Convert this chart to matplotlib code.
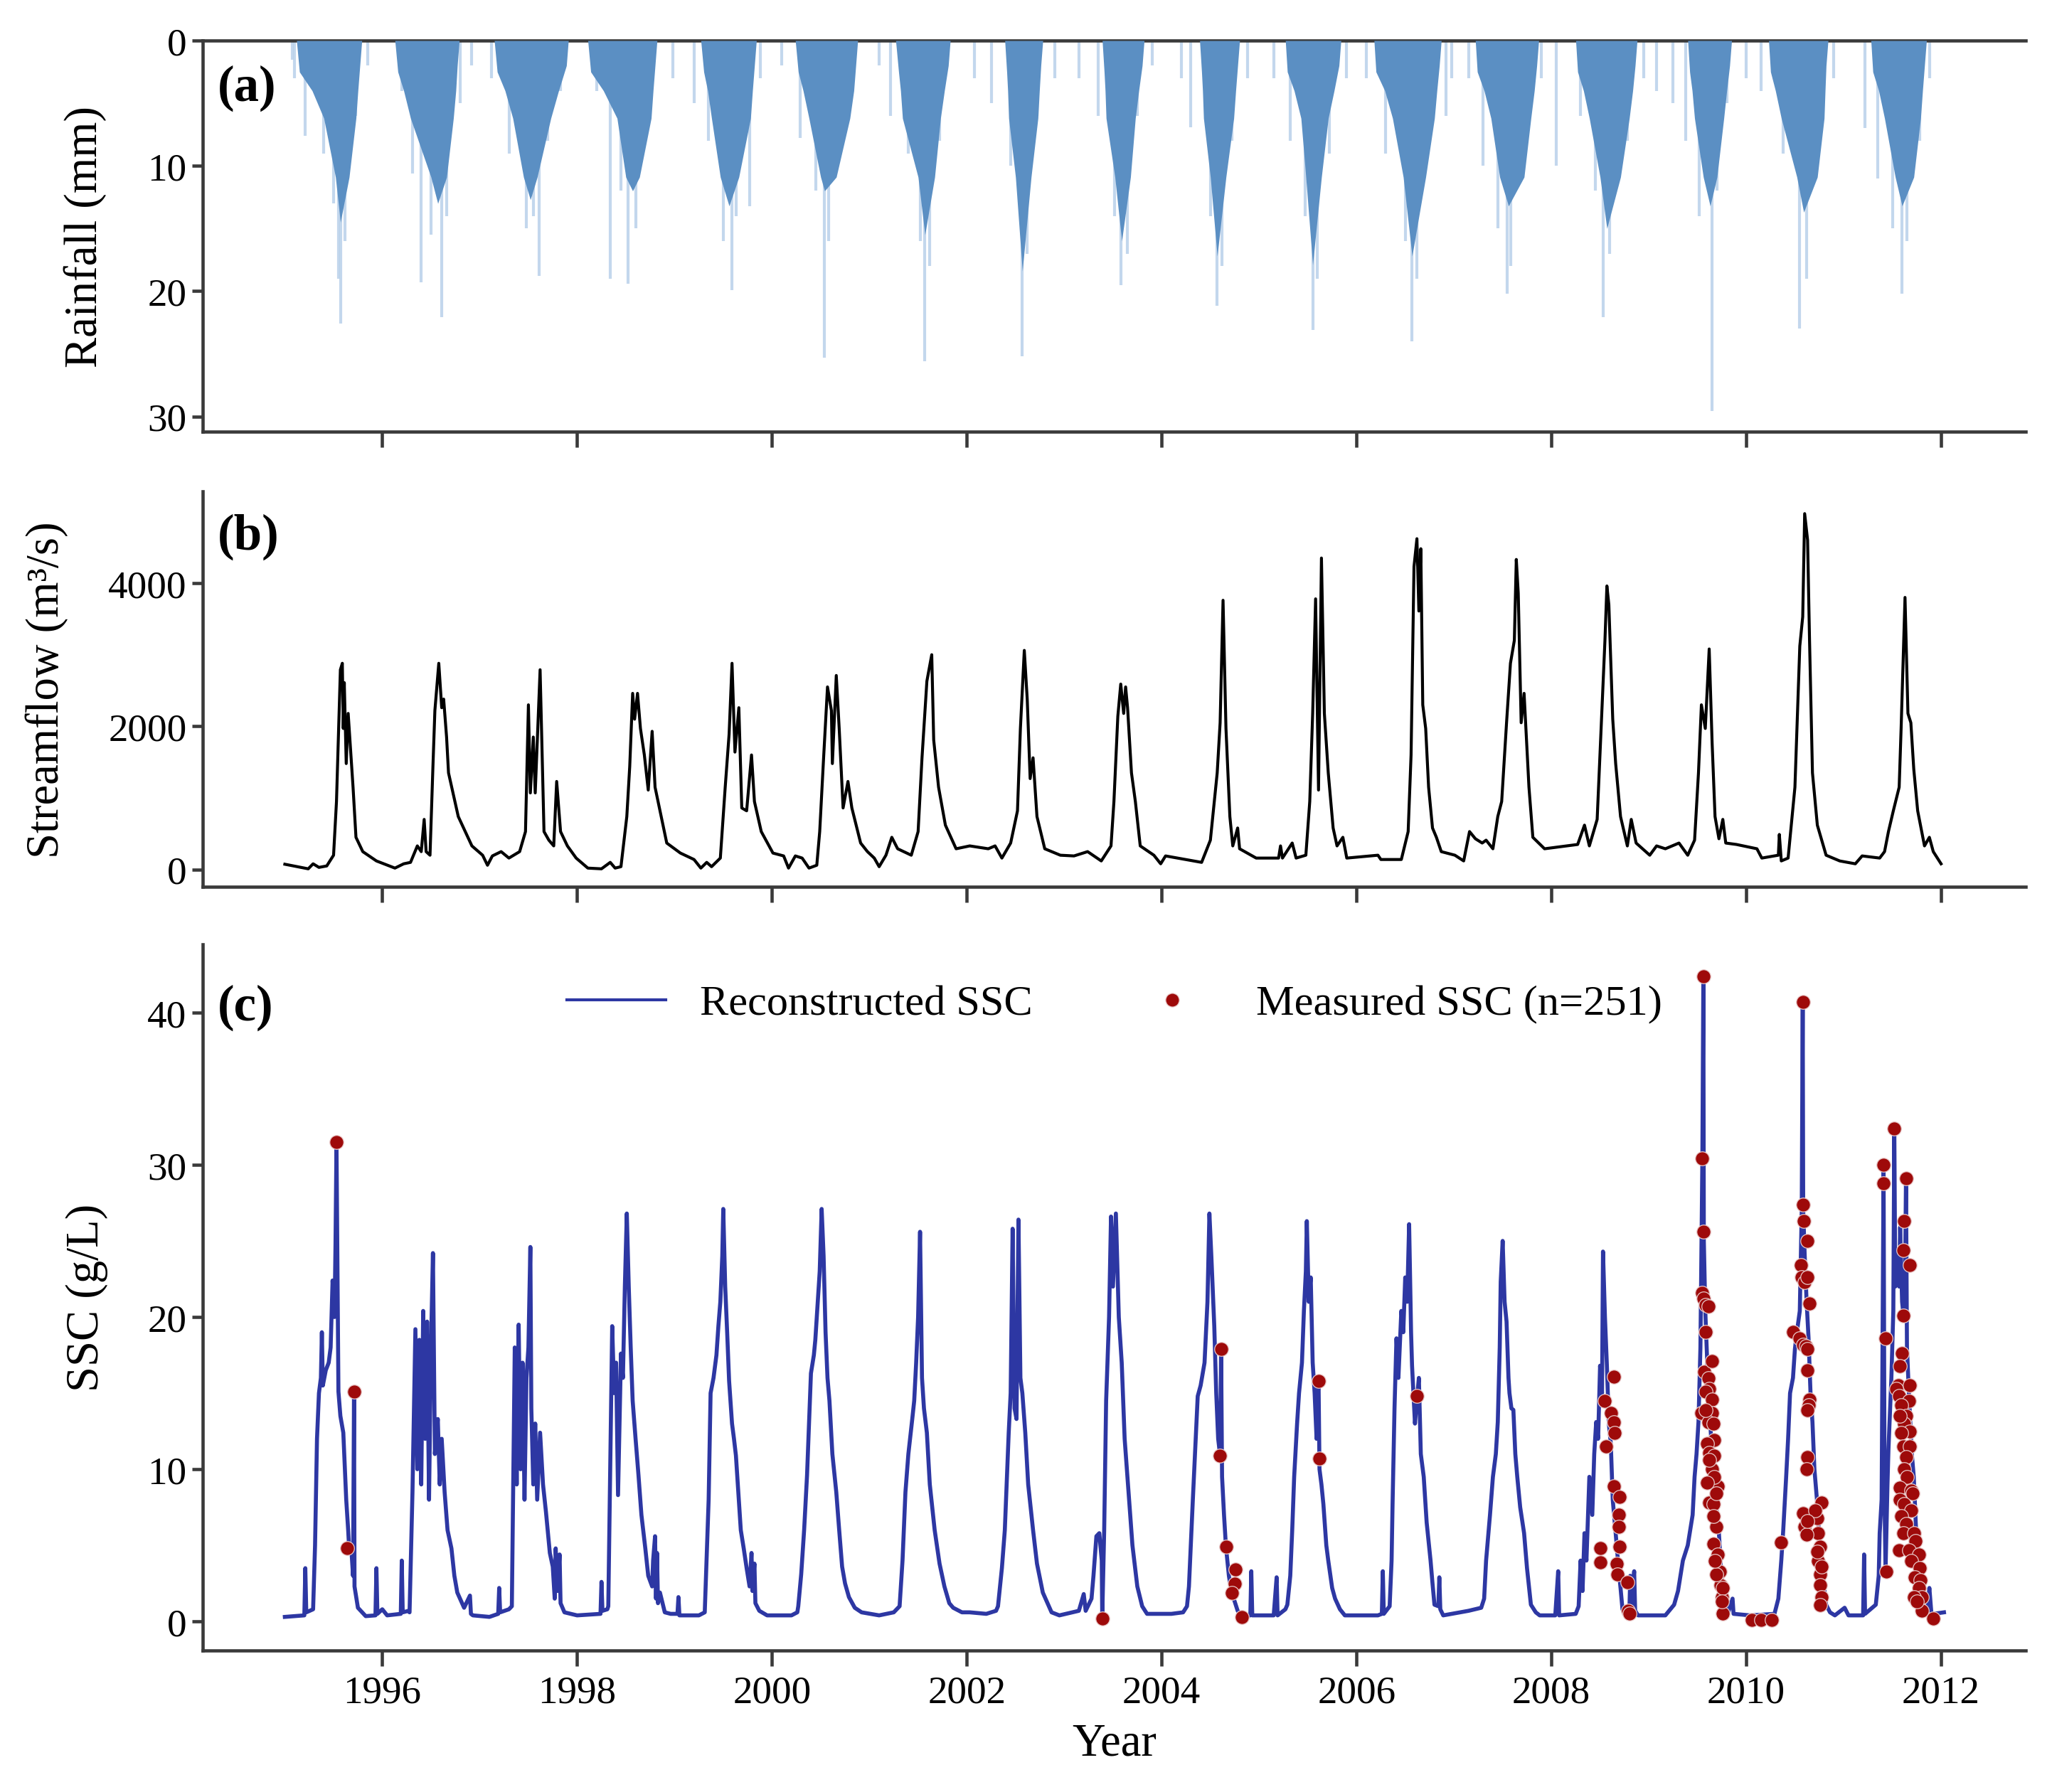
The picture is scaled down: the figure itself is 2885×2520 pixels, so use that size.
import matplotlib
matplotlib.use("Agg")
import matplotlib.pyplot as plt
from matplotlib.lines import Line2D

plt.rcParams['font.family'] = ['Liberation Serif', 'DejaVu Serif']

# ---------------- data (decimal years) ----------------
# rainfall: outline of the dense daily-rain cluster of each wet season (mm)
rain_t = [1995.12, 1995.15, 1995.28, 1995.40, 1995.52, 1995.57, 1995.66, 1995.73, 1995.75, 1995.77, 1995.79,
          1996.13, 1996.16, 1996.22, 1996.29, 1996.50, 1996.57, 1996.66, 1996.73, 1996.755, 1996.77, 1996.79,
          1997.15, 1997.18, 1997.26, 1997.34, 1997.45, 1997.52, 1997.59, 1997.73, 1997.81, 1997.89, 1997.91,
          1998.11, 1998.14, 1998.27, 1998.41, 1998.50, 1998.57, 1998.64, 1998.76, 1998.78, 1998.80, 1998.82,
          1999.27, 1999.30, 1999.34, 1999.38, 1999.47, 1999.56, 1999.66, 1999.78, 1999.80, 1999.82, 1999.84,
          2000.24, 2000.27, 2000.32, 2000.38, 2000.50, 2000.54, 2000.66, 2000.80, 2000.84, 2000.86, 2000.88,
          2001.27, 2001.30, 2001.32, 2001.34, 2001.50, 2001.57, 2001.67, 2001.73, 2001.77, 2001.81, 2001.83,
          2002.39, 2002.41, 2002.42, 2002.43, 2002.50, 2002.57, 2002.66, 2002.73, 2002.745, 2002.76, 2002.78,
          2003.39, 2003.41, 2003.42, 2003.43, 2003.52, 2003.59, 2003.68, 2003.73, 2003.765, 2003.80, 2003.82,
          2004.39, 2004.41, 2004.42, 2004.43, 2004.50, 2004.57, 2004.66, 2004.74, 2004.76, 2004.78, 2004.80,
          2005.27, 2005.29, 2005.36, 2005.43, 2005.48, 2005.55, 2005.64, 2005.71, 2005.77, 2005.82, 2005.84,
          2006.18, 2006.20, 2006.29, 2006.37, 2006.48, 2006.57, 2006.71, 2006.80, 2006.825, 2006.85, 2006.87,
          2007.22, 2007.24, 2007.31, 2007.38, 2007.47, 2007.56, 2007.72, 2007.79, 2007.825, 2007.85, 2007.87,
          2008.25, 2008.27, 2008.33, 2008.39, 2008.50, 2008.57, 2008.71, 2008.80, 2008.835, 2008.86, 2008.88,
          2009.40, 2009.42, 2009.445, 2009.47, 2009.56, 2009.63, 2009.70, 2009.77, 2009.80, 2009.83, 2009.85,
          2010.23, 2010.25, 2010.30, 2010.36, 2010.52, 2010.59, 2010.73, 2010.80, 2010.81, 2010.82, 2010.84,
          2011.28, 2011.30, 2011.36, 2011.42, 2011.53, 2011.60, 2011.72, 2011.79, 2011.81, 2011.83, 2011.85]
rain_mm = [0, 2.5, 4, 6.2, 10.9, 14.5, 10.9, 6.2, 4, 2, 0,
           0, 2.5, 4, 6.2, 10.9, 13.0, 10.9, 6.2, 4, 2, 0,
           0, 2.5, 4, 6.2, 10.9, 12.7, 10.9, 6.2, 4, 2, 0,
           0, 2.5, 4, 6.2, 10.9, 12.0, 10.9, 6.2, 4, 2, 0,
           0, 2.5, 4, 6.2, 10.9, 13.2, 10.9, 6.2, 4, 2, 0,
           0, 2.5, 4, 6.2, 10.9, 12.0, 10.9, 6.2, 4, 2, 0,
           0, 2.5, 4, 6.2, 10.9, 15.5, 10.9, 6.2, 4, 2, 0,
           0, 2.5, 4, 6.2, 10.9, 18.4, 10.9, 6.2, 4, 2, 0,
           0, 2.5, 4, 6.2, 10.9, 16.0, 10.9, 6.2, 4, 2, 0,
           0, 2.5, 4, 6.2, 10.9, 17.2, 10.9, 6.2, 4, 2, 0,
           0, 2.5, 4, 6.2, 10.9, 17.9, 10.9, 6.2, 4, 2, 0,
           0, 2.5, 4, 6.2, 10.9, 17.2, 10.9, 6.2, 4, 2, 0,
           0, 2.5, 4, 6.2, 10.9, 13.2, 10.9, 6.2, 4, 2, 0,
           0, 2.5, 4, 6.2, 10.9, 15.0, 10.9, 6.2, 4, 2, 0,
           0, 2.5, 4, 6.2, 10.9, 13.2, 10.9, 6.2, 4, 2, 0,
           0, 2.5, 4, 6.2, 10.9, 13.7, 10.9, 6.2, 4, 2, 0,
           0, 2.5, 4, 6.2, 10.9, 13.2, 10.9, 6.2, 4, 2, 0]

# isolated heavy-rain days (mm)
spike_t = [1995.08, 1995.10, 1995.21, 1995.40, 1995.50, 1995.55, 1995.57, 1995.62, 1995.73, 1995.85,
           1996.20, 1996.31, 1996.40, 1996.50, 1996.61, 1996.66, 1996.80, 1996.92,
           1997.12, 1997.30, 1997.48, 1997.55, 1997.61, 1997.70, 1997.83,
           1998.20, 1998.34, 1998.45, 1998.52, 1998.60, 1998.72, 1998.98,
           1999.20, 1999.35, 1999.50, 1999.59, 1999.63, 1999.77, 1999.88,
           2000.10, 2000.29, 2000.45, 2000.54, 2000.58, 2000.66, 2000.80,
           2001.10, 2001.22, 2001.40, 2001.52, 2001.57, 2001.62, 2001.72,
           2002.08, 2002.25, 2002.45, 2002.57, 2002.62, 2002.72, 2002.90,
           2003.15, 2003.35, 2003.52, 2003.58, 2003.65, 2003.75, 2003.90,
           2004.20, 2004.30, 2004.50, 2004.57, 2004.62, 2004.72, 2004.88,
           2005.15, 2005.32, 2005.47, 2005.55, 2005.60, 2005.72, 2005.90,
           2006.10, 2006.30, 2006.50, 2006.57, 2006.62, 2006.92, 2006.98,
           2007.15, 2007.30, 2007.45, 2007.55, 2007.58, 2007.70, 2007.90,
           2008.05, 2008.30, 2008.45, 2008.53, 2008.60, 2008.78, 2008.95,
           2009.08, 2009.25, 2009.38, 2009.52, 2009.65, 2009.70, 2009.80,
           2010.00, 2010.15, 2010.38, 2010.55, 2010.62, 2010.72, 2010.90,
           2011.22, 2011.35, 2011.50, 2011.60, 2011.65, 2011.78, 2011.88]
spike_mm = [1.5, 3, 7.6, 9, 13, 19, 22.6, 16, 6, 2,
            4, 10.6, 19.3, 15.5, 22.1, 14, 5, 2,
            3, 9, 15, 14, 18.8, 8, 4,
            4, 19, 12, 19.4, 15, 7, 3,
            5, 8, 16, 19.9, 14, 13.2, 3,
            2, 7.8, 12, 25.3, 16, 10, 5,
            2, 6, 9, 16, 25.6, 18, 8,
            3, 5, 10, 25.2, 17, 6, 3,
            3, 6, 14, 19.5, 17, 6, 2,
            3, 6.9, 14, 21.2, 18, 8, 3,
            3, 8, 14, 23.1, 19, 9, 3,
            3, 9, 16, 24, 19, 6, 3,
            3, 10, 15, 20.2, 18, 8, 3,
            10, 6, 12, 22.1, 17, 8, 3,
            4, 5, 8, 14, 29.6, 12, 5,
            3, 4, 9, 23, 19, 10, 3,
            7, 11, 15, 20.2, 16, 8, 3]

# streamflow (m3/s)
q_t = [1995.00, 1995.24, 1995.29, 1995.35, 1995.43, 1995.50, 1995.53, 1995.57, 1995.59, 1995.60, 1995.61,
       1995.63, 1995.65, 1995.70, 1995.73, 1995.80, 1995.94, 1996.13, 1996.22, 1996.29, 1996.36, 1996.40,
       1996.43, 1996.45, 1996.49, 1996.52, 1996.54, 1996.58, 1996.61, 1996.63, 1996.66, 1996.68, 1996.78,
       1996.92, 1997.03, 1997.08, 1997.13, 1997.22, 1997.30, 1997.41, 1997.47, 1997.50, 1997.52, 1997.55,
       1997.57, 1997.62, 1997.66, 1997.71, 1997.76, 1997.79, 1997.83, 1997.90, 1997.99, 1998.11, 1998.25,
       1998.34, 1998.39, 1998.45, 1998.51, 1998.54, 1998.57, 1998.59, 1998.62, 1998.65, 1998.69, 1998.73,
       1998.77, 1998.80, 1998.92, 1999.06, 1999.20, 1999.27, 1999.33, 1999.38, 1999.47, 1999.52, 1999.56,
       1999.59, 1999.62, 1999.66, 1999.69, 1999.74, 1999.79, 1999.82, 1999.89, 2000.01, 2000.12, 2000.17,
       2000.24, 2000.31, 2000.38, 2000.46, 2000.49, 2000.53, 2000.57, 2000.61, 2000.62, 2000.66, 2000.69,
       2000.73, 2000.78, 2000.82, 2000.91, 2000.98, 2001.05, 2001.10, 2001.17, 2001.23, 2001.29, 2001.43,
       2001.50, 2001.54, 2001.59, 2001.64, 2001.66, 2001.71, 2001.78, 2001.89, 2002.03, 2002.22, 2002.29,
       2002.36, 2002.45, 2002.52, 2002.55, 2002.59, 2002.62, 2002.65, 2002.68, 2002.72, 2002.80, 2002.96,
       2003.10, 2003.24, 2003.38, 2003.48, 2003.51, 2003.55, 2003.58, 2003.61, 2003.63, 2003.65, 2003.69,
       2003.73, 2003.78, 2003.92, 2003.99, 2004.04, 2004.41, 2004.50, 2004.57, 2004.60, 2004.63, 2004.66,
       2004.70, 2004.73, 2004.78, 2004.80, 2004.97, 2005.20, 2005.22, 2005.24, 2005.34, 2005.38, 2005.48,
       2005.52, 2005.55, 2005.58, 2005.61, 2005.64, 2005.67, 2005.71, 2005.76, 2005.80, 2005.86, 2005.90,
       2006.22, 2006.25, 2006.46, 2006.53, 2006.56, 2006.59, 2006.62, 2006.64, 2006.66, 2006.68, 2006.71,
       2006.74, 2006.78, 2006.82, 2006.87, 2007.01, 2007.10, 2007.16, 2007.22, 2007.29, 2007.33, 2007.40,
       2007.45, 2007.49, 2007.54, 2007.58, 2007.62, 2007.64, 2007.66, 2007.69, 2007.72, 2007.77, 2007.81,
       2007.93, 2008.16, 2008.27, 2008.34, 2008.39, 2008.47, 2008.50, 2008.55, 2008.57, 2008.59, 2008.63,
       2008.66, 2008.71, 2008.78, 2008.82, 2008.87, 2009.01, 2009.08, 2009.17, 2009.31, 2009.40, 2009.47,
       2009.51, 2009.54, 2009.58, 2009.62, 2009.65, 2009.68, 2009.72, 2009.76, 2009.79, 2009.90, 2010.11,
       2010.16, 2010.33, 2010.34, 2010.36, 2010.43, 2010.50, 2010.55, 2010.58, 2010.60, 2010.63, 2010.65,
       2010.68, 2010.73, 2010.82, 2010.96, 2011.12, 2011.19, 2011.37, 2011.42, 2011.46, 2011.51, 2011.57,
       2011.59, 2011.63, 2011.66, 2011.69, 2011.72, 2011.76, 2011.83, 2011.88, 2011.92, 2012.00]
q_val = [74, 10, 80, 30, 50, 200, 950, 2790, 2880, 1970, 2610,
         1480, 2180, 1150, 450, 250, 120, 20, 80, 100, 330, 250,
         700, 250, 200, 1440, 2220, 2880, 2260, 2380, 1850, 1350, 740,
         330, 200, 60, 190, 250, 160, 250, 530, 2300, 1070, 1850,
         1070, 2790, 530, 410, 330, 1230, 530, 330, 160, 20, 10,
         100, 20, 40, 740, 1440, 2460, 2100, 2460, 1970, 1600, 1110,
         1930, 1150, 370, 230, 140, 20, 100, 40, 160, 1150, 1890,
         2880, 1640, 2260, 860, 820, 1600, 950, 530, 230, 190, 20,
         190, 160, 20, 60, 530, 1560, 2550, 2220, 1480, 2710, 1970,
         860, 1230, 860, 370, 250, 160, 40, 200, 450, 290, 200,
         530, 1560, 2630, 3000, 1810, 1150, 620, 290, 330, 290, 330,
         160, 370, 820, 1970, 3060, 2380, 1270, 1560, 740, 290, 200,
         190, 250, 120, 330, 950, 2140, 2590, 2180, 2550, 2260, 1350,
         950, 330, 200, 80, 190, 100, 410, 1350, 2050, 3760, 1970,
         740, 330, 580, 290, 160, 160, 330, 160, 370, 160, 200,
         950, 2180, 3780, 1110, 4350, 2180, 1350, 580, 330, 450, 160,
         200, 140, 140, 530, 1600, 4230, 4620, 3610, 4480, 2300, 1970,
         1150, 580, 450, 250, 200, 120, 530, 430, 370, 410, 290,
         740, 950, 2050, 2880, 3200, 4330, 3860, 2050, 2460, 1150, 450,
         290, 330, 350, 620, 330, 700, 1640, 3200, 3960, 3700, 2100,
         1480, 740, 330, 700, 370, 200, 330, 290, 370, 200, 410,
         1350, 2300, 1970, 3080, 1770, 740, 430, 700, 370, 350, 290,
         160, 200, 490, 120, 160, 1150, 3120, 3530, 4970, 4600, 3200,
         1350, 620, 200, 120, 80, 190, 160, 250, 530, 820, 1150,
         1970, 3800, 2180, 2050, 1400, 820, 330, 450, 250, 80]

# reconstructed SSC (g/L), one block per wet season
ssc_t = [1995.00, 1995.20, 1995.21, 1995.22, 1995.29, 1995.31, 1995.33, 1995.35, 1995.37, 1995.38,
         1995.39, 1995.42, 1995.45, 1995.47, 1995.49, 1995.51, 1995.52, 1995.53, 1995.55, 1995.57,
         1995.60, 1995.62, 1995.63, 1995.65, 1995.66, 1995.68, 1995.70, 1995.71, 1995.715, 1995.75,
         1995.83, 1995.93, 1995.94, 1995.95, 1996.00, 1996.05, 1996.19, 1996.20, 1996.21, 1996.27,
         1996.28, 1996.31, 1996.34, 1996.36, 1996.38, 1996.40, 1996.42, 1996.44, 1996.46, 1996.48,
         1996.50, 1996.52, 1996.54, 1996.57, 1996.59, 1996.61, 1996.64, 1996.67, 1996.71, 1996.74,
         1996.77, 1996.84, 1996.90, 1996.91, 1996.93, 1997.10, 1997.19, 1997.20, 1997.21, 1997.30,
         1997.33, 1997.36, 1997.38, 1997.40, 1997.42, 1997.44, 1997.46, 1997.48, 1997.50, 1997.52,
         1997.53, 1997.55, 1997.57, 1997.59, 1997.62, 1997.65, 1997.68, 1997.72, 1997.75, 1997.77,
         1997.78, 1997.80, 1997.82, 1997.83, 1997.87, 1998.00, 1998.24, 1998.25, 1998.26, 1998.31,
         1998.32, 1998.36, 1998.38, 1998.40, 1998.42, 1998.45, 1998.47, 1998.49, 1998.51, 1998.53,
         1998.55, 1998.57, 1998.60, 1998.63, 1998.66, 1998.70, 1998.73, 1998.77, 1998.78, 1998.80,
         1998.81, 1998.82, 1998.83, 1998.85, 1998.90, 1998.96, 1999.03, 1999.04, 1999.05, 1999.25,
         1999.31, 1999.35, 1999.37, 1999.40, 1999.43, 1999.45, 1999.47, 1999.49, 1999.50, 1999.52,
         1999.54, 1999.56, 1999.59, 1999.61, 1999.63, 1999.66, 1999.68, 1999.71, 1999.74, 1999.77,
         1999.79, 1999.80, 1999.82, 1999.83, 1999.87, 1999.95, 2000.20, 2000.26,
         2000.27, 2000.30, 2000.33, 2000.36, 2000.38, 2000.40, 2000.43, 2000.445, 2000.47, 2000.49,
         2000.51, 2000.53, 2000.55, 2000.57, 2000.59, 2000.62, 2000.66, 2000.69, 2000.72, 2000.75,
         2000.79, 2000.85, 2000.92, 2001.10, 2001.25,
         2001.31, 2001.34, 2001.37, 2001.40, 2001.44, 2001.46, 2001.48, 2001.50, 2001.52, 2001.54,
         2001.56, 2001.59, 2001.62, 2001.67, 2001.72, 2001.77, 2001.82, 2001.86, 2001.95, 2002.03,
         2002.20, 2002.30,
         2002.32, 2002.36, 2002.39, 2002.43, 2002.45, 2002.47, 2002.49, 2002.51, 2002.53, 2002.55,
         2002.57, 2002.60, 2002.63, 2002.68, 2002.72, 2002.78, 2002.87, 2002.95, 2003.15, 2003.20,
         2003.22, 2003.28,
         2003.30, 2003.33, 2003.36, 2003.385, 2003.39, 2003.41, 2003.43, 2003.46, 2003.48, 2003.50,
         2003.53, 2003.56, 2003.59, 2003.62, 2003.66, 2003.70, 2003.75, 2003.80, 2003.85, 2004.10,
         2004.22,
         2004.26, 2004.28, 2004.32, 2004.37, 2004.40, 2004.44, 2004.47, 2004.49, 2004.51, 2004.54,
         2004.56, 2004.58, 2004.60, 2004.61, 2004.62, 2004.64, 2004.66, 2004.69, 2004.71, 2004.74,
         2004.78, 2004.82, 2004.91, 2004.92, 2004.93, 2005.15, 2005.18, 2005.19, 2005.27,
         2005.29, 2005.32, 2005.34, 2005.36, 2005.39, 2005.41, 2005.44, 2005.46, 2005.48, 2005.49,
         2005.51, 2005.53, 2005.55, 2005.57, 2005.59, 2005.61, 2005.62, 2005.64, 2005.66, 2005.69,
         2005.71, 2005.75, 2005.78, 2005.83, 2005.88, 2006.15, 2006.22,
         2006.26, 2006.27, 2006.28, 2006.34, 2006.36, 2006.37, 2006.39, 2006.41, 2006.43, 2006.46,
         2006.48, 2006.50, 2006.52, 2006.54, 2006.56, 2006.57, 2006.60, 2006.62, 2006.64, 2006.66,
         2006.69, 2006.72, 2006.76, 2006.78, 2006.80, 2006.84, 2006.85, 2006.86, 2006.89, 2007.15,
         2007.28,
         2007.31, 2007.33, 2007.37, 2007.40, 2007.43, 2007.45, 2007.47, 2007.48, 2007.50, 2007.52,
         2007.54, 2007.56, 2007.57, 2007.59, 2007.61, 2007.63, 2007.65, 2007.68, 2007.72, 2007.75,
         2007.79, 2007.84, 2007.88, 2008.04, 2008.07, 2008.08, 2008.25,
         2008.28, 2008.30, 2008.32, 2008.34, 2008.36, 2008.39, 2008.42, 2008.44, 2008.46, 2008.48,
         2008.50, 2008.52, 2008.53, 2008.55, 2008.57, 2008.59, 2008.61, 2008.63, 2008.66, 2008.69,
         2008.71, 2008.73, 2008.76, 2008.80, 2008.81, 2008.82, 2008.85, 2008.86, 2008.89, 2009.17,
         2009.26, 2009.30, 2009.35, 2009.40, 2009.42, 2009.45, 2009.47, 2009.49, 2009.51, 2009.53,
         2009.54, 2009.55, 2009.56, 2009.565, 2009.58, 2009.60, 2009.61, 2009.63, 2009.65, 2009.67,
         2009.70, 2009.72, 2009.74, 2009.76, 2009.78, 2009.81, 2009.86, 2009.87, 2010.04, 2010.29,
         2010.33, 2010.36, 2010.38, 2010.41, 2010.43, 2010.45, 2010.48, 2010.50, 2010.52, 2010.55,
         2010.57, 2010.58, 2010.585, 2010.60, 2010.62, 2010.64, 2010.66, 2010.68, 2010.70, 2010.73,
         2010.75, 2010.78, 2010.80, 2010.82, 2010.86, 2010.91, 2011.01, 2011.05, 2011.20, 2011.21,
         2011.22,
         2011.33, 2011.36, 2011.37, 2011.39, 2011.41, 2011.42, 2011.43, 2011.45, 2011.46, 2011.49,
         2011.51, 2011.52, 2011.53, 2011.55, 2011.57, 2011.58, 2011.60, 2011.61, 2011.63, 2011.64,
         2011.65, 2011.67, 2011.70, 2011.72, 2011.74, 2011.76, 2011.79, 2011.81, 2011.86, 2011.88,
         2011.90, 2011.92, 2012.03]
ssc_val = [0.3, 0.4, 3.5, 0.6, 0.8, 5, 12, 15, 16, 19,
           15.5, 16.5, 17, 18, 22.4, 20, 24.8, 31.4, 15.1, 13.5,
           12.4, 9.5, 8, 6, 4.8, 5, 3, 15.1, 2.3, 0.9,
           0.35, 0.4, 3.5, 0.5, 0.8, 0.4, 0.5, 4, 0.6, 0.7,
           0.6, 8.5, 19.2, 10, 18.5, 9, 20.4, 12, 19.7, 8,
           18, 24.2, 11, 13.3, 9, 12, 8.5, 6, 4.8, 3,
           1.9, 0.9, 1.7, 0.5, 0.4, 0.3, 0.5, 2.2, 0.6, 0.8,
           1, 18, 9, 19.5, 10, 17, 8, 16, 18, 24.6,
           14, 9, 13, 8, 12.4, 9, 7.2, 4.5, 3.6, 1.5,
           4.8, 2, 4.4, 1.2, 0.6, 0.4, 0.5, 2.6, 0.7, 0.8,
           1, 19.4, 15, 17, 8.3, 17.6, 16, 22, 26.8, 22,
           18, 14.5, 12, 9.6, 7, 4.8, 3, 2.3, 4, 5.6,
           1.5, 4.5, 1.2, 1.9, 0.6, 0.5, 0.5, 1.6, 0.4, 0.4,
           0.6, 8, 15, 16, 17.5, 19.4, 21, 24, 27.1, 22,
           19, 15.8, 13, 12, 10.9, 8, 6, 4.8, 3.5, 2.3,
           4.5, 2, 3.8, 1.2, 0.7, 0.4, 0.4, 0.6,
           1, 3.1, 6, 9.6, 13, 16.3, 17.5, 18.5, 21, 23,
           27.1, 24, 19, 16, 14.5, 11, 8.5, 6, 3.6, 2.5,
           1.6, 0.9, 0.6, 0.4, 0.6,
           1, 4, 8.5, 11, 13.3, 14.5, 17, 20, 25.6, 16,
           14, 12.4, 9, 6, 3.8, 2.3, 1.2, 0.9, 0.6, 0.6,
           0.5, 0.7,
           1, 3.5, 6, 12.4, 15, 25.8, 14, 13.3, 26.4, 16,
           15, 12.4, 9, 6, 3.8, 1.9, 0.6, 0.4, 0.7, 1.8,
           0.7, 1.5,
           3, 5.6, 5.8, 4, 0.25, 6, 14.5, 20, 26.6, 22,
           26.8, 20, 17, 12, 8.5, 5, 2.3, 1, 0.5, 0.5,
           0.6,
           1, 2.3, 8, 14.8, 15.5, 17, 21, 26.8, 24, 19.4,
           15, 12, 10.9, 17.9, 9.5, 7, 4.9, 3, 2.2, 1.5,
           0.7, 0.4, 0.4, 3.3, 0.4, 0.4, 2.9, 0.4, 0.8,
           1.1, 3, 6, 9.5, 13, 15, 17, 20.4, 23, 26.3,
           21, 22.6, 17, 15, 12, 16, 10, 9, 7.7, 5,
           4, 2.2, 1.5, 0.8, 0.4, 0.4, 0.4,
           0.5, 3.3, 0.5, 1, 4, 7.7, 14, 18.6, 16, 20.4,
           19, 22.6, 21, 26.1, 19, 16.8, 13, 14.6, 16, 11,
           9.5, 6.5, 4, 2.5, 1.1, 1.0, 2.9, 0.8, 0.4, 0.7,
           0.9,
           1.5, 4, 7, 9.5, 11, 13.1, 18, 22.3, 25, 21,
           19.7, 16, 15, 14, 13.9, 11, 9.5, 7.5, 5.8, 3.5,
           1.1, 0.6, 0.4, 0.4, 3.3, 0.4, 0.5,
           1, 4, 2, 5.8, 4, 9.5, 7, 11, 13.1, 12,
           16.8, 15, 24.3, 20, 16.8, 13, 11.7, 8, 5.8, 3.5,
           2.2, 0.8, 0.4, 0.5, 3, 1, 3.3, 0.7, 0.4, 0.4,
           1.1, 2, 4, 5, 5.8, 7, 9.5, 11, 13.1, 18,
           24.1, 30.4, 42.3, 25, 20.4, 17, 15, 13.1, 11, 9.5,
           7, 5.8, 3.5, 2.2, 1.2, 0.5, 1.5, 0.5, 0.4, 0.5,
           1.5, 4, 6, 9.5, 12, 15, 16, 17.9, 19, 20.4,
           27, 40.7, 27, 24.1, 21, 18.6, 15, 13.1, 10, 7.7,
           5.5, 4, 2.2, 1.1, 0.6, 0.4, 0.9, 0.4, 0.4, 4.4,
           0.5,
           1.1, 3, 5.8, 8, 29.9, 8, 3.3, 9, 11.3, 16,
           20.4, 32.5, 22, 24.1, 22, 25.9, 21, 20.4, 22, 29.2,
           18, 15, 11, 9.5, 6.5, 4, 2, 1.1, 0.8, 2.2,
           0.6, 0.5, 0.6]

# measured SSC samples (g/L)
meas_t = [1995.53, 1995.71, 1995.64,
          2003.39, 2004.61, 2004.60, 2004.66, 2004.76, 2004.75, 2004.72, 2004.82,
          2005.61, 2005.62, 2006.62,
          2008.55, 2008.64, 2008.61, 2008.64, 2008.65, 2008.56, 2008.64, 2008.70, 2008.69, 2008.69,
          2008.50, 2008.50, 2008.70, 2008.67, 2008.68, 2008.78, 2008.79, 2008.80,
          2009.56, 2009.55, 2009.56, 2009.55, 2009.56, 2009.58, 2009.61, 2009.58, 2009.57, 2009.65,
          2009.61, 2009.62, 2009.58, 2009.65, 2009.65, 2009.54, 2009.61, 2009.67, 2009.60, 2009.62,
          2009.67, 2009.65, 2009.71, 2009.62, 2009.66, 2009.69, 2009.66, 2009.71, 2009.73, 2009.74,
          2009.75, 2009.76, 2009.76, 2009.69, 2009.66, 2009.67, 2009.60, 2009.62, 2009.58, 2009.66,
          2009.69, 2009.75, 2009.68,
          2010.06, 2010.15, 2010.26,
          2010.36, 2010.58, 2010.58, 2010.59, 2010.63, 2010.56, 2010.57, 2010.60, 2010.63, 2010.65,
          2010.48, 2010.55, 2010.58, 2010.61, 2010.63, 2010.63, 2010.65, 2010.64, 2010.63, 2010.63,
          2010.62, 2010.58, 2010.60, 2010.77, 2010.73, 2010.74, 2010.76, 2010.74, 2010.76, 2010.76,
          2010.77, 2010.76, 2010.71, 2010.62, 2010.63, 2010.73, 2010.77,
          2011.41, 2011.41, 2011.52, 2011.64, 2011.62, 2011.61, 2011.68, 2011.43, 2011.44, 2011.61,
          2011.60, 2011.58, 2011.56, 2011.68, 2011.54, 2011.57, 2011.67, 2011.59, 2011.64, 2011.62,
          2011.58, 2011.68, 2011.59, 2011.61, 2011.68, 2011.64, 2011.62, 2011.65, 2011.58, 2011.69,
          2011.71, 2011.58, 2011.62, 2011.69, 2011.59, 2011.64, 2011.61, 2011.72, 2011.74, 2011.57,
          2011.67, 2011.77, 2011.69, 2011.78, 2011.73, 2011.79, 2011.77, 2011.80, 2011.80, 2011.92,
          2011.72, 2011.75]
meas_v = [31.5, 15.1, 4.8,
          0.2, 17.9, 10.9, 4.9, 3.4, 2.5, 1.9, 0.3,
          15.8, 10.7, 14.8,
          14.5, 16.1, 13.7, 13.1, 12.4, 11.5, 8.9, 8.2, 7.0, 6.2,
          4.8, 3.9, 4.9, 3.8, 3.1, 2.6, 0.7, 0.5,
          42.4, 30.4, 25.6, 21.6, 21.2, 20.8, 20.7, 19.0, 16.4, 17.1,
          16.0, 15.3, 15.1, 14.6, 13.7, 13.7, 13.1, 11.9, 11.7, 11.1,
          10.9, 10.0, 8.9, 7.8, 7.7, 6.2, 5.1, 4.4, 3.3, 2.4,
          1.6, 0.5, 2.2, 3.1, 6.9, 9.5, 9.1, 10.6, 13.9, 13.0,
          8.4, 1.3, 4.0,
          0.1, 0.1, 0.1,
          5.2, 40.7, 27.4, 26.3, 25.0, 23.4, 22.6, 22.3, 22.6, 20.9,
          19.0, 18.6, 18.2, 18.1, 17.9, 16.5, 14.6, 14.2, 13.9, 10.8,
          10.0, 7.1, 6.2, 7.8, 6.8, 5.8, 4.9, 4.0, 3.1, 2.4,
          1.6, 1.1, 7.3, 5.7, 6.6, 4.6, 3.6,
          30.0, 28.8, 32.4, 29.1, 26.3, 24.4, 23.4, 18.6, 3.3, 20.1,
          17.6, 16.8, 15.5, 15.5, 15.3, 14.8, 14.5, 14.2, 13.5, 13.0,
          13.5, 12.5, 12.4, 11.5, 11.5, 10.8, 10.0, 9.5, 8.8, 8.6,
          8.4, 8.0, 7.7, 7.3, 6.9, 6.4, 5.8, 5.8, 5.3, 4.7,
          4.7, 4.4, 4.0, 3.5, 2.9, 2.7, 2.2, 1.6, 0.7, 0.2,
          1.6, 1.3]

year_ticks = [1996, 1998, 2000, 2002, 2004, 2006, 2008, 2010, 2012]

# ---------------- figure ----------------
fig = plt.figure(figsize=(9.62, 8.403), dpi=300)
ax_a = fig.add_axes([0.0989, 0.759, 0.888, 0.218])
ax_b = fig.add_axes([0.0989, 0.505, 0.888, 0.2205])
ax_c = fig.add_axes([0.0989, 0.079, 0.888, 0.394])

spine_col = '#3a3a3a'
for ax in (ax_a, ax_b, ax_c):
    ax.set_xlim(1994.16, 2012.87)
    ax.set_xticks(year_ticks)
    ax.spines['right'].set_visible(False)
    for s in ax.spines.values():
        s.set_color(spine_col)
        s.set_linewidth(1.1)
    ax.tick_params(axis='x', direction='out', length=5.2, width=1.1, color=spine_col,
                   labelsize=13.2, pad=3)
    ax.tick_params(axis='y', direction='out', length=3.5, width=1.1, color=spine_col,
                   labelsize=13.2, pad=2)

# (a) rainfall
ax_a.vlines(spike_t, 0, spike_mm, color='#b9d1ea', lw=1.0, alpha=0.85, zorder=1)
ax_a.fill_between(rain_t, 0, rain_mm, color='#5b8fc3', lw=0, zorder=3)
ax_a.set_ylim(31.2, 0)
ax_a.set_yticks([0, 10, 20, 30])
ax_a.tick_params(axis='x', labelbottom=False)
ax_a.set_ylabel('Rainfall (mm)', fontsize=15.5)
ax_a.yaxis.set_label_coords(-0.053, 0.5)
ax_a.text(0.008, 0.88, '(a)', transform=ax_a.transAxes, fontsize=17,
          fontweight='bold', va='center', ha='left')

# (b) streamflow
ax_b.spines['top'].set_visible(False)
ax_b.plot(q_t, q_val, color='black', lw=1.0)
ax_b.set_ylim(-240, 5280)
ax_b.set_yticks([0, 2000, 4000])
ax_b.tick_params(axis='x', labelbottom=False)
ax_b.set_ylabel('Streamflow (m³/s)', fontsize=15.5)
ax_b.yaxis.set_label_coords(-0.074, 0.5)
ax_b.text(0.008, 0.887, '(b)', transform=ax_b.transAxes, fontsize=17,
          fontweight='bold', va='center', ha='left')

# (c) SSC
ax_c.spines['top'].set_visible(False)
ax_c.plot(ssc_t, ssc_val, color='#2d37a3', lw=1.35, zorder=2)
ax_c.scatter(meas_t, meas_v, s=22, color='#9e0a0a', edgecolor='#e8c8c8',
             linewidth=0.3, zorder=3)
ax_c.set_ylim(-1.9, 44.5)
ax_c.set_yticks([0, 10, 20, 30, 40])
ax_c.set_ylabel('SSC (g/L)', fontsize=15.5)
ax_c.yaxis.set_label_coords(-0.052, 0.5)
ax_c.set_xlabel('Year', fontsize=15.5, labelpad=4)
ax_c.text(0.008, 0.911, '(c)', transform=ax_c.transAxes, fontsize=17,
          fontweight='bold', va='center', ha='left')

h_line = Line2D([], [], color='#2d37a3', lw=1.0)
h_pt = Line2D([], [], color='none', marker='o', markersize=4.6,
              markerfacecolor='#9e0a0a', markeredgecolor='#e8c8c8', markeredgewidth=0.3)
ax_c.legend([h_line, h_pt], ['Reconstructed SSC', 'Measured SSC (n=251)'],
            loc='center', bbox_to_anchor=(0.5, 0.915), ncol=2, frameon=False,
            fontsize=14.5, handlelength=2.3, handletextpad=0.8, columnspacing=2.1)

fig.savefig('out.png', dpi=300)
